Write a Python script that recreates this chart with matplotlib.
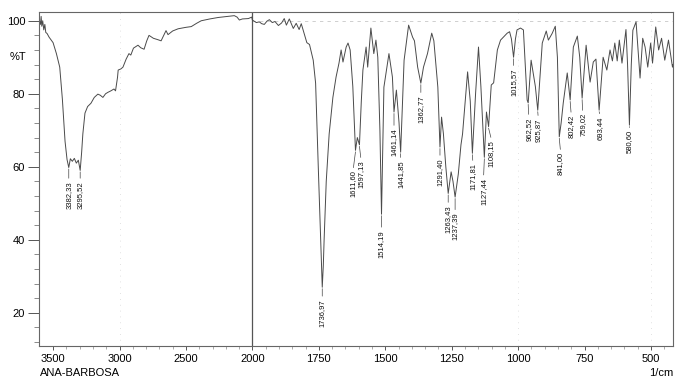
import numpy as np
import matplotlib
matplotlib.use("Agg")
import matplotlib.pyplot as plt
from matplotlib.ticker import FixedLocator

plt.rcParams["font.family"] = ["Liberation Sans", "DejaVu Sans"]

# IR spectrum, wavenumber (1/cm) vs transmittance (%T)
wavenumber = [
    3606, 3595, 3590, 3585, 3578, 3570, 3562, 3555, 3545, 3530, 3500, 3475,
    3450, 3430, 3410, 3395, 3382, 3370, 3355, 3340, 3325, 3310, 3296, 3285,
    3276, 3260, 3240, 3215, 3190, 3163, 3145, 3125, 3105, 3087, 3065, 3042,
    3030, 3015, 3010, 2990, 2974, 2950, 2929, 2915, 2895, 2861, 2840, 2815,
    2795, 2778, 2745, 2710, 2687, 2665, 2650, 2635, 2600, 2559, 2500, 2460,
    2420, 2385, 2320, 2257, 2180, 2136, 2115, 2098, 2075, 2030, 2005,
    2000, 1985, 1974, 1965, 1955, 1945, 1936, 1925, 1915, 1902, 1890, 1880,
    1872, 1861, 1846, 1835, 1824, 1816, 1805, 1795, 1785, 1771, 1762, 1752,
    1745, 1737, 1733, 1730, 1722, 1711, 1697, 1685, 1674, 1666, 1659, 1647,
    1640, 1632, 1622, 1612, 1605, 1597, 1590, 1584, 1572, 1566, 1554, 1543,
    1535, 1528, 1520, 1514, 1508, 1505, 1486, 1473, 1467, 1458, 1448, 1442,
    1435, 1429, 1412, 1397, 1390, 1378, 1366, 1356, 1341, 1325, 1317, 1302,
    1294, 1288, 1281, 1272, 1263, 1252, 1245, 1237, 1225, 1215, 1209, 1190,
    1180, 1172, 1160, 1149, 1140, 1127, 1119, 1111, 1101, 1092, 1078, 1066,
    1041, 1032, 1025, 1017, 1010, 1004, 991, 980, 966, 962, 951, 935, 926,
    909, 894, 886, 872, 860, 852, 845, 838, 830, 815, 804, 792, 777, 768,
    759, 744, 729, 717, 707, 695, 680, 666, 654, 645, 636, 627, 619, 609,
    594, 588, 581, 574, 568, 556, 541, 531, 522, 512, 501, 494, 482, 471,
    460, 448, 434, 419, 417,
]
transmittance = [
    100.5, 99.0, 101.2, 98.5, 100.0, 97.5, 99.0, 96.8, 96.5, 95.5, 94.0, 91.0,
    87.3, 78.5, 67.0, 62.0, 59.8, 62.2, 61.5, 62.3, 61.0, 61.8, 59.0, 64.0,
    69.0, 74.7, 76.5, 77.4, 79.0, 79.9, 79.6, 79.0, 80.0, 80.4, 80.8, 81.3,
    80.8, 84.5, 86.5, 86.8, 87.3, 89.5, 91.0, 90.6, 92.5, 93.3, 92.6, 92.2,
    94.5, 96.0, 95.2, 94.8, 94.5, 96.2, 97.3, 96.2, 97.2, 97.8, 98.2, 98.4,
    99.3, 100.0, 100.5, 100.9, 101.2, 101.4, 101.0, 100.2, 100.5, 100.6, 101.0,
    100.2, 99.5, 99.7, 99.2, 99.0, 99.9, 100.3, 99.5, 99.8, 98.7, 99.4, 100.6,
    98.8, 100.5, 97.9, 99.3, 97.6, 99.2, 96.5, 94.0, 93.5, 89.2, 82.9, 60.0,
    45.0, 27.0, 33.0, 40.0, 56.0, 69.0, 79.0, 84.6, 88.4, 92.0, 88.7, 92.8,
    93.9, 92.0, 82.0, 64.5, 68.0, 66.0, 78.0, 86.5, 92.8, 87.3, 98.0, 91.0,
    94.7, 90.0, 70.0, 47.0, 70.0, 81.8, 91.0, 84.6, 75.0, 81.0, 72.0, 64.0,
    78.0, 89.2, 98.8, 95.5, 94.5, 87.3, 82.9, 87.3, 91.0, 96.6, 94.5, 81.8,
    65.4, 73.6, 69.0, 60.0, 52.7, 58.6, 56.0, 51.7, 58.0, 66.0, 69.0, 86.0,
    78.0, 63.7, 80.0, 92.8, 82.0, 62.6, 75.0, 71.0, 82.4, 83.0, 92.0, 94.7,
    96.6, 97.0, 95.0, 90.0, 95.0, 97.5, 98.0, 97.5, 78.3, 77.5, 89.2, 82.0, 75.5,
    93.9, 97.2, 94.7, 96.5, 98.5, 90.0, 68.2, 72.0, 77.5, 85.7, 78.3, 92.8, 95.8, 90.0,
    78.8, 93.3, 83.2, 88.7, 89.5, 75.5, 90.0, 86.5, 92.0, 89.0, 93.9, 89.0, 94.7, 88.4,
    97.6, 88.0, 71.4, 88.0, 97.4, 99.7, 84.3, 95.2, 92.8, 87.3, 93.9, 88.4, 98.3, 92.0,
    95.2, 89.2, 94.7, 87.3, 88.0,
]

# peak picks: band position, %T at the band, where the label sits
peak_labels = ["3382,33", "3295,52", "1736,97", "1611,60", "1597,13", "1514,19",
               "1461,14", "1441,85", "1362,77", "1291,40", "1263,43", "1237,39",
               "1171,81", "1127,44", "1108,15", "1015,57", "962,52", "925,87",
               "841,00", "802,42", "759,02", "693,44", "580,60"]
peak_wn = [3382, 3296, 1737, 1612, 1597, 1514, 1467, 1442, 1366, 1294, 1263, 1237,
           1172, 1127, 1111, 1017, 962, 926, 845, 804, 759, 695, 581]
peak_t = [59.8, 59.0, 27.0, 64.5, 66.0, 47.0, 75.0, 64.0, 82.9, 65.4, 52.7, 51.7,
          63.7, 62.6, 71.0, 90.0, 77.5, 75.5, 68.2, 78.3, 78.8, 75.5, 71.4]
label_wn = [3382, 3296, 1737, 1621, 1591, 1514, 1467, 1442, 1366, 1294, 1263, 1237,
            1170, 1130, 1100, 1017, 960, 924, 840, 800, 757, 690, 580]
label_t = [56.1, 56.1, 23.8, 59.0, 61.8, 42.7, 70.6, 61.8, 79.6, 62.4, 49.5, 47.5,
           61.0, 57.0, 67.3, 87.0, 73.6, 73.3, 64.0, 74.2, 74.7, 73.8, 70.0]

x_ticks = [3500, 3000, 2500, 2000, 1750, 1500, 1250, 1000, 750, 500]


# the scan above 2000 1/cm is compressed to half scale
def forward(x):
    x = np.asarray(x, dtype=float)
    return np.where(x > 2000, 2000 + (x - 2000) * 0.5, x)


def inverse(y):
    y = np.asarray(y, dtype=float)
    return np.where(y > 2000, 2000 + (y - 2000) * 2.0, y)


fig = plt.figure(figsize=(6.95, 3.8), dpi=100)
ax = fig.add_axes([39 / 695, 1 - 346 / 380, 634 / 695, 334 / 380])
ax.set_xscale("function", functions=(forward, inverse))

for x in [3000, 1000, 500]:
    ax.axvline(x, color="#d8d8d8", lw=0.6, ls=(0, (1, 6)), zorder=0)
ax.plot([2000, 417], [100, 100], color="#c8c8c8", lw=0.6, ls=(0, (4, 5)), zorder=0)
ax.axvline(2000, color="#555555", lw=0.9, zorder=1)

ax.plot(wavenumber, transmittance, color="#4a4a4a", lw=0.7, zorder=2)

for lab, wp, tp, wl, tl in zip(peak_labels, peak_wn, peak_t, label_wn, label_t):
    ax.annotate(lab, xy=(wp, tp - 0.4), xytext=(wl, tl), rotation=90,
                ha="center", va="top", fontsize=5.5, color="#111111",
                arrowprops=dict(arrowstyle="-", lw=0.5, color="#444444",
                                shrinkA=0, shrinkB=0, relpos=(0.5, 1.0)))

ax.set_xlim(3606, 417)
ax.set_ylim(10.9, 102.4)
ax.xaxis.set_major_locator(FixedLocator(x_ticks))
ax.xaxis.set_minor_locator(FixedLocator(list(range(2100, 3600, 100)) + list(range(450, 2000, 50))))
ax.set_xticklabels([str(t) for t in x_ticks])
ax.set_yticks([20, 40, 60, 80, 100])
ax.set_yticks(np.arange(12, 102, 4), minor=True)

ax.tick_params(axis="y", which="major", direction="out", length=8, width=0.7,
               color="#555555", labelsize=8, pad=2)
ax.tick_params(axis="y", which="minor", direction="out", length=3.6, width=0.6,
               color="#777777")
ax.tick_params(axis="x", which="major", direction="out", length=3, width=0.7,
               color="#555555", labelsize=8, pad=2.5)
ax.tick_params(axis="x", which="minor", direction="out", length=2, width=0.5,
               color="#888888")
for s in ax.spines.values():
    s.set_color("#666666")
    s.set_linewidth(0.8)

fig.text(10 / 695, 1 - 57 / 380, "%T", fontsize=8, va="center", ha="left")
fig.text(40 / 695, 1 - 373 / 380, "ANA-BARBOSA", fontsize=8, va="center", ha="left")
fig.text(673 / 695, 1 - 373 / 380, "1/cm", fontsize=8, va="center", ha="right")

fig.savefig("out.png", dpi=100)
